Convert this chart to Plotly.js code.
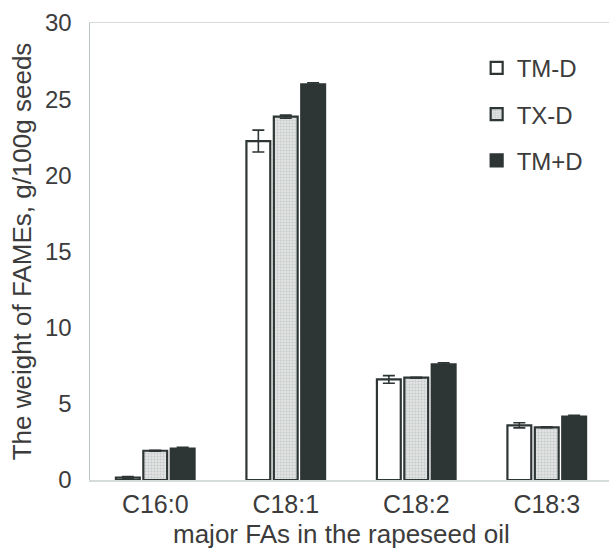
<!DOCTYPE html>
<html>
<head>
<meta charset="utf-8">
<script src="https://cdn.plot.ly/plotly-3.0.1.min.js"></script>
<style>html,body{margin:0;padding:0;overflow:hidden;background:#fff}</style>
</head>
<body>
<div id="chart" style="width:609px;height:551px"></div>
<script>
const categories = ["C16:0", "C18:1", "C18:2", "C18:3"];
const seriesNames = ["TM-D", "TX-D", "TM+D"];
const tmMinusD = [0.15, 22.25, 6.6, 3.59];
const tmMinusDErr = [0.07, 0.72, 0.25, 0.17];
const txMinusD = [1.92, 23.85, 6.72, 3.46];
const txMinusDErr = [0.03, 0.1, 0.03, 0.03];
const tmPlusD = [2.06, 25.98, 7.6, 4.16];
const tmPlusDErr = [0.08, 0.09, 0.09, 0.09];
const yTicks = [0, 5, 10, 15, 20, 25, 30];
const xTitle = 'major FAs in the rapeseed oil';
const yTitle = 'The weight of FAMEs, g/100g seeds';

const edge = '#2e3535';
const fontFam = '"Liberation Sans", Arial, sans-serif';
const txt = '#3c3c3c';

function errBar(arr) {
  return {type: 'data', array: arr, visible: true, color: edge, thickness: 1.6, width: 6};
}

const traces = [
  {type: 'bar', name: seriesNames[0], x: categories, y: tmMinusD, error_y: errBar(tmMinusDErr),
   legendgroup: 'a',
   marker: {color: '#ffffff', line: {color: edge, width: 2.2}}},
  {type: 'bar', name: seriesNames[1], x: categories, y: txMinusD, error_y: errBar(txMinusDErr),
   legendgroup: 'b',
   marker: {color: '#e2e4e4', line: {color: edge, width: 2.2},
            pattern: {shape: '.', bgcolor: '#e3e5e5', fgcolor: '#c4c8c8', size: 3, solidity: 0.35}}},
  {type: 'bar', name: seriesNames[2], x: categories, y: tmPlusD, error_y: errBar(tmPlusDErr),
   legendgroup: 'c',
   marker: {color: edge, line: {color: edge, width: 2.2}}}
];

const layout = {
  width: 609, height: 551,
  margin: {l: 90, r: 0, t: 23, b: 71},
  paper_bgcolor: '#ffffff', plot_bgcolor: '#ffffff',
  font: {family: fontFam, color: txt, size: 23},
  barmode: 'group', bargap: 0.37, bargroupgap: 0.13,
  showlegend: true,
  legend: {x: 0.745, y: 0.95, xanchor: 'left', yanchor: 'top',
           font: {family: fontFam, size: 24, color: txt},
           bgcolor: 'rgba(0,0,0,0)', tracegroupgap: 12, traceorder: 'grouped'},
  xaxis: {
    type: 'category', range: [-0.5, 3.477],
    showline: true, linecolor: '#d6dcdc', linewidth: 1.5, mirror: true,
    ticks: '', showgrid: false, zeroline: false,
    ticklabelstandoff: 1,
    tickfont: {family: fontFam, size: 25, color: txt}
  },
  yaxis: {
    range: [0, 30], tickvals: yTicks, ticktext: yTicks.map(String),
    showline: true, linecolor: '#bcc5c5', linewidth: 1.5,
    ticks: '', showgrid: false, zeroline: false,
    ticklabelstandoff: 12,
    tickfont: {family: fontFam, size: 24, color: txt},
    title: {text: yTitle, font: {family: fontFam, size: 26, color: txt}, standoff: 6}
  },
  annotations: [{
    text: xTitle, xref: 'paper', yref: 'paper', x: 0.484, y: -0.119,
    xanchor: 'center', yanchor: 'middle', showarrow: false,
    font: {family: fontFam, size: 26, color: txt}
  }]
};

Plotly.newPlot('chart', traces, layout, {displayModeBar: false, staticPlot: true});
</script>
</body>
</html>
